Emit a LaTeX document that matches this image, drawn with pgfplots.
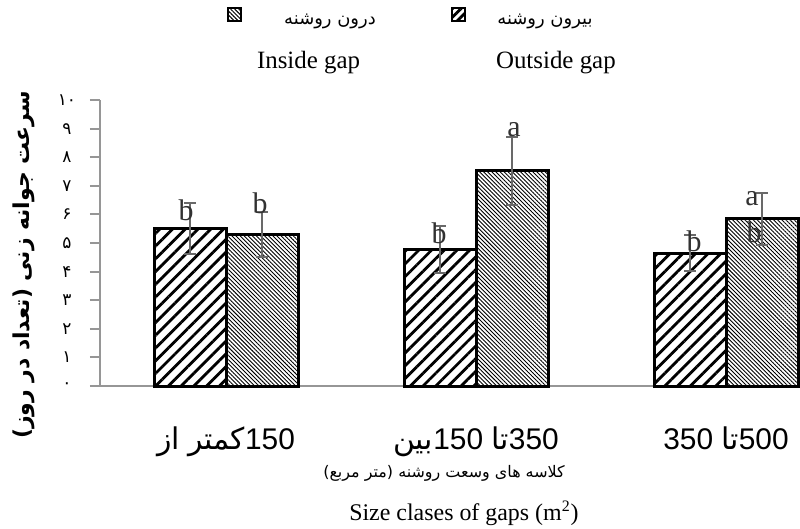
\documentclass[border=0pt]{standalone}
\usepackage{fontspec}
\setmainfont{Liberation Serif}
\newfontfamily\ar[Script=Arabic]{DejaVu Sans}
\newfontfamily\lsans{Liberation Sans}
\usepackage{pgfplots}
\pgfplotsset{compat=1.18}
\usetikzlibrary{patterns.meta}
\TeXXeTstate=1
\definecolor{axgray}{RGB}{150,150,150}
\definecolor{errgray}{RGB}{105,105,105}
\definecolor{lettercol}{RGB}{50,50,50}

\pgfplotstableread{
x y e
0 5.50 0.90
1 4.78 0.82
2 4.65 0.62
}\outside
\pgfplotstableread{
x y e
0 5.30 0.80
1 7.52 1.18
2 5.84 0.90
}\inside

\begin{document}
\begin{tikzpicture}
\path[use as bounding box] (0,0) rectangle (400bp,264.5bp);
\begin{axis}[
  at={(50bp,71.5bp)}, anchor=south west,
  scale only axis, width=350bp, height=143bp,
  xmin=-0.504, xmax=2.296, ymin=0, ymax=10,
  axis x line*=bottom, axis y line*=left,
  axis line style={axgray, line width=1bp, -},
  ybar, bar width=0.288,
  xtick={0,1,2},
  xticklabels={{\ar از} {\ar کمتر}150, {\ar بین}150 {\ar تا}350, 350 {\ar تا}500},
  xtick style={draw=none},
  xticklabel style={font=\lsans\fontsize{15}{15}\selectfont, anchor=base, yshift=-26.5bp},
  ytick={0,1,2,3,4,5,6,7,8,9,10},
  yticklabels={۰,۱,۲,۳,۴,۵,۶,۷,۸,۹,۱۰},
  ytick align=outside, major tick length=5bp,
  ytick style={axgray, line width=1bp},
  yticklabel style={font=\ar\fontsize{8.5}{8.5}\selectfont, anchor=center, xshift=-11.5bp},
  clip=false,
]
\addplot[draw=black, line width=1.5bp, bar shift=-0.144,
  pattern={Lines[angle=45,distance=4.5bp,line width=1.4bp]}, pattern color=black,
  error bars/.cd, y dir=both, y explicit,
  error bar style={errgray, line width=1bp, solid},
  error mark options={rotate=90, errgray, mark size=3bp, line width=1bp, solid}]
  table[x=x, y=y, y error=e] {\outside};
\addplot[draw=black, line width=1.5bp, bar shift=0.144,
  pattern={Lines[angle=-45,distance=1.45bp,line width=0.45bp]}, pattern color=black,
  error bars/.cd, y dir=both, y explicit,
  error bar style={errgray, line width=1bp, solid},
  error mark options={rotate=90, errgray, mark size=3bp, line width=1bp, solid}]
  table[x=x, y=y, y error=e] {\inside};
\begin{scope}[every node/.style={inner sep=0pt, text=lettercol, font=\fontsize{15}{15}\selectfont}]
\node at (axis cs:-0.160,6.15) {b};
\node at (axis cs:0.136,6.40) {b};
\node at (axis cs:0.852,5.35) {b};
\node at (axis cs:1.152,8.95) {a};
\node at (axis cs:1.872,5.07) {b};
\node at (axis cs:2.104,6.54) {a};
\node at (axis cs:2.112,5.38) {b};
\end{scope}
\end{axis}
% y label
\node[rotate=90, font=\ar\bfseries\fontsize{11}{11}\selectfont] at (12bp,132bp) {\beginR سرعت جوانه زنی (تعداد در روز)\endR};
% legend
\draw[line width=1bp, pattern={Lines[angle=-45,distance=1.45bp,line width=0.5bp]}, pattern color=black] (114bp,254bp) rectangle (120.5bp,260.5bp);
\node[font=\ar\fontsize{9}{9}\selectfont] at (165bp,254bp) {\beginR درون روشنه\endR};
\draw[line width=1bp, pattern={Lines[angle=45,distance=3bp,line width=1.4bp]}, pattern color=black] (226bp,254bp) rectangle (232.5bp,260.5bp);
\node[font=\ar\fontsize{9}{9}\selectfont] at (272.5bp,254bp) {\beginR بیرون روشنه\endR};
\node[anchor=west, font=\fontsize{12.5}{12.5}\selectfont] at (125bp,233bp) {Inside gap};
\node[anchor=west, font=\fontsize{12.5}{12.5}\selectfont] at (244.5bp,233bp) {Outside gap};
% x titles
\node[font=\ar\fontsize{8}{8}\selectfont] at (222bp,28bp) {\beginR کلاسه های وسعت روشنه (متر مربع)\endR};
\node[font=\fontsize{12}{12}\selectfont] at (232bp,8bp) {Size clases of gaps (m\textsuperscript{2})};
\end{tikzpicture}
\end{document}
